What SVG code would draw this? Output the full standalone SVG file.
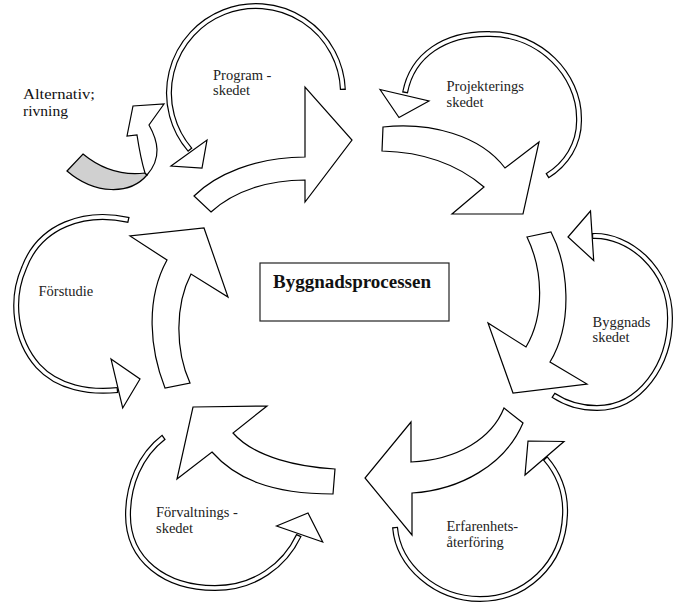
<svg xmlns="http://www.w3.org/2000/svg" width="673" height="603" viewBox="0 0 673 603">
  <style>
    .big { fill: #fff; stroke: #000; stroke-width: 1.2; stroke-linejoin: miter; }
    .ring-o { fill: none; stroke: #000; stroke-width: 6; }
    .ring-i { fill: none; stroke: #fff; stroke-width: 3.6; stroke-dasharray: 0 4 992 4; }
    .head { fill: #fff; stroke: #000; stroke-width: 1.2; stroke-linejoin: miter; }
    .lbl { font-family: "Liberation Serif", "Times New Roman", serif; font-size: 14.5px; fill: #222; }
    .big-lbl { font-family: "Liberation Serif", "Times New Roman", serif; font-size: 15.5px; fill: #111; }
    .title { font-family: "Liberation Serif", "Times New Roman", serif; font-size: 19px; font-weight: bold; fill: #111; }
  </style>
  <defs>
    <!-- centre lines of the small circular arrows -->
    <path id="arcA" pathLength="1000" d="M342.9,90 A87,87 0 1,0 190.3,150.1"/>
    <path id="arcB" pathLength="1000" d="M547,176 C565,165 580,145 579,118 C579,75 540,34 490,34 C445,33 412,55 405,93"/>
    <path id="arcC" pathLength="1000" d="M592,236 C628,234 670,268 670,318 C670,365 640,408 597,408 C580,408 565,403 553,395"/>
    <path id="arcD" pathLength="1000" d="M545,458 C560,475 566,495 565,515 C563,565 525,599 480,599 C435,599 398,565 395,527"/>
    <path id="arcE" pathLength="1000" d="M164,437 C140,455 128,485 128,515 C128,560 165,588 215,588 C255,588 285,565 299,535"/>
    <path id="arcF" pathLength="1000" d="M129,220 C85,210 40,225 24,268 C10,300 15,340 38,366 C58,388 90,393 118,390"/>
  </defs>
  <rect width="673" height="603" fill="#fff"/>

  <!-- main cycle: six broad curved arrows -->
  <g id="connectors">
    <path class="big" d="M194,196 C215,175 255,157 305,157 L305,87 L352,140 L305,202 L305,180 C270,180 235,190 211,212 Z"/>
    <path class="big" d="M383,127 C430,122 480,135 505,168 L539,142 L523,214 L452,214 L484,187 C455,162 420,152 382,151 Z"/>
    <path class="big" d="M527,237 L551,232 C568,265 574,322 550,362 L587,384 L513,393 L488,323 L526,347 C545,315 543,270 527,237 Z"/>
    <path class="big" d="M504,408 C492,438 458,460 411,462 L411,422 L365,478 L412,535 L412,493 C460,490 505,465 523,423 Z"/>
    <path class="big" d="M335,469 C300,467 255,458 233,433 L267,406 L193,407 L177,479 L212,452 C235,478 270,494 333,494 Z"/>
    <path class="big" d="M165,388 C150,350 145,300 167,260 L130,236 L204,228 L228,297 L191,274 C175,305 175,350 190,383 Z"/>
  </g>

  <g id="center">
    <rect x="260" y="263" width="189" height="58" fill="#fff" stroke="#222" stroke-width="1.2"/>
    <text class="title" x="273" y="288">Byggnadsprocessen</text>
  </g>

  <g id="program">
    <use href="#arcA" class="ring-o"/>
    <use href="#arcA" class="ring-i"/>
    <polygon class="head" points="171,166 207,140 202,168"/>
    <text class="lbl" x="213" y="80">Program -</text>
    <text class="lbl" x="213" y="95">skedet</text>
  </g>

  <g id="projektering">
    <use href="#arcB" class="ring-o"/>
    <use href="#arcB" class="ring-i"/>
    <polygon class="head" points="380,89.5 429,101 399,117.5"/>
    <text class="lbl" x="446.5" y="91">Projekterings</text>
    <text class="lbl" x="446.5" y="107">skedet</text>
  </g>

  <g id="byggnad">
    <use href="#arcC" class="ring-o"/>
    <use href="#arcC" class="ring-i"/>
    <polygon class="head" points="590.5,211 568,237 593.7,260.5"/>
    <text class="lbl" x="592.5" y="327">Byggnads</text>
    <text class="lbl" x="592.5" y="342">skedet</text>
  </g>

  <g id="erfarenhet">
    <use href="#arcD" class="ring-o"/>
    <use href="#arcD" class="ring-i"/>
    <polygon class="head" points="528,441 564,441.5 525,475"/>
    <text class="lbl" x="446.5" y="531">Erfarenhets-</text>
    <text class="lbl" x="446.5" y="547">återföring</text>
  </g>

  <g id="forvaltning">
    <use href="#arcE" class="ring-o"/>
    <use href="#arcE" class="ring-i"/>
    <polygon class="head" points="276.5,526 308,513 322.7,542"/>
    <text class="lbl" x="156" y="517">Förvaltnings -</text>
    <text class="lbl" x="156" y="533">skedet</text>
  </g>

  <g id="forstudie">
    <use href="#arcF" class="ring-o"/>
    <use href="#arcF" class="ring-i"/>
    <polygon class="head" points="111,359 140,379 122.7,408"/>
    <text class="lbl" x="38.5" y="296">Förstudie</text>
  </g>

  <g id="alternativ">
    <path fill="#d0d0d0" stroke="#000" stroke-width="1.2" d="M67,171 L83,154 C100,168 120,176 145,173 L147,175 C130,195 95,195 67,171 Z"/>
    <path class="big" d="M145,173 C141,160 139,148 137,135 L127,136 L133,106 L164,104 L149,125 C158,141 162,158 147,175 Z"/>
    <text class="big-lbl" x="23" y="98.5" textLength="72" lengthAdjust="spacingAndGlyphs">Alternativ;</text>
    <text class="big-lbl" x="23" y="115.5" textLength="45" lengthAdjust="spacingAndGlyphs">rivning</text>
  </g>
</svg>
